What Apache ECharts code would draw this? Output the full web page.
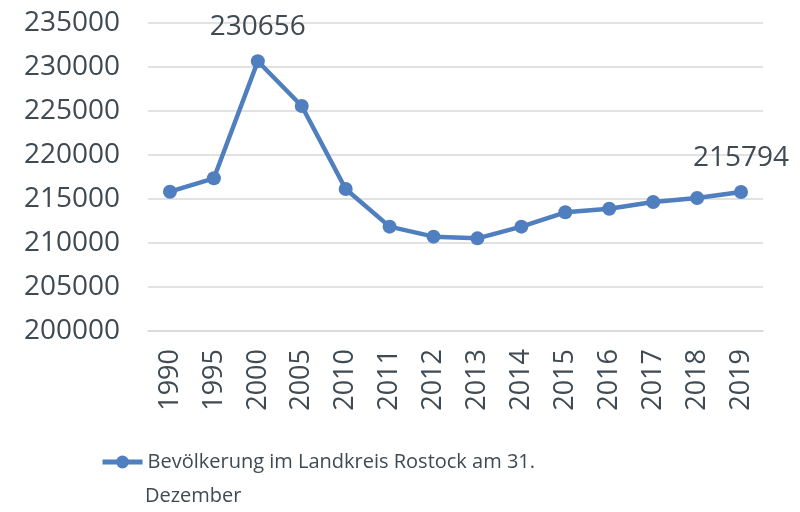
<!DOCTYPE html>
<html><head><meta charset="utf-8">
<script src="https://cdn.jsdelivr.net/npm/echarts@6/dist/echarts.min.js"></script>
<style>html,body{margin:0;padding:0;background:#fff}#c{width:800px;height:512px}</style>
</head><body><div id="c"></div>
<script>
const categories = ['1990','1995','2000','2005','2010','2011','2012','2013','2014','2015','2016','2017','2018','2019'];
const population = [215830, 217350, 230656, 225570, 216140, 211860, 210720, 210530, 211860, 213490, 213900, 214660, 215110, 215794];
const labelledYears = ['2000','2019'];
const seriesName = 'Bevölkerung im Landkreis Rostock am 31.';
const seriesNameLine2 = 'Dezember';
const yMin = 200000, yMax = 235000, yStep = 5000;

const FONT = 'Open Sans';
const TXT = '#3f4a52';
const BLUE = '#4f7fbe';
const chart = echarts.init(document.getElementById('c'), null, {renderer: 'canvas'});
chart.setOption({
  animation: false,
  textStyle: {fontFamily: FONT},
  grid: {left: 148, right: 37, top: 23, bottom: 181},
  legend: {
    data: [seriesName], left: 95, top: 443,
    itemWidth: 40, itemHeight: 16, itemGap: 0,
    lineStyle: {width: 5},
    textStyle: {fontFamily: FONT, fontSize: 20, color: TXT, lineHeight: 28}
  },
  graphic: [{
    type: 'text', left: 145, top: 486,
    style: {text: seriesNameLine2, font: '20px "Open Sans"', fill: TXT}
  }],
  xAxis: {
    type: 'category', data: categories,
    axisLine: {lineStyle: {color: '#d9d9d9', width: 1.5}},
    axisTick: {show: false},
    axisLabel: {rotate: 90, fontSize: 27, color: TXT, margin: 18, fontFamily: FONT}
  },
  yAxis: {
    type: 'value', min: yMin, max: yMax, interval: yStep,
    axisLabel: {fontSize: 28, color: TXT, margin: 28, fontFamily: FONT, formatter: v => String(v)},
    splitLine: {lineStyle: {color: '#d9d9d9', width: 1.5}},
    axisLine: {show: false}, axisTick: {show: false}
  },
  series: [{
    name: seriesName, type: 'line',
    data: population.map((v, i) => ({
      value: v,
      label: {show: labelledYears.includes(categories[i])}
    })),
    symbol: 'circle', symbolSize: 14,
    lineStyle: {color: BLUE, width: 4.5},
    itemStyle: {color: BLUE},
    label: {position: 'top', distance: 13, fontSize: 28, color: TXT, fontFamily: FONT}
  }]
});
</script></body></html>
